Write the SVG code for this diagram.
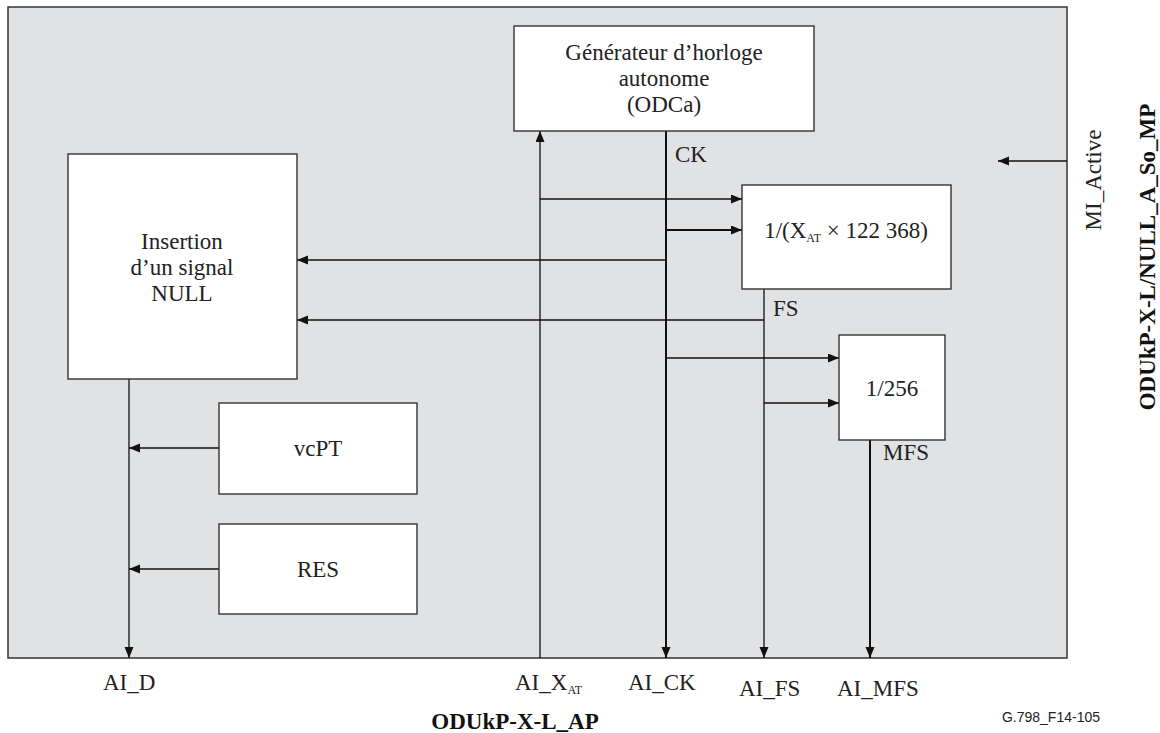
<svg xmlns="http://www.w3.org/2000/svg" width="1160" height="733" viewBox="0 0 1160 733">
<defs>
<marker id="ah" markerUnits="userSpaceOnUse" markerWidth="12" markerHeight="10" refX="11" refY="4.5" orient="auto">
<path d="M0,0 L11,4.5 L0,9 z" fill="#111"/>
</marker>
<style>
.box{fill:#fff;stroke:#333;stroke-width:1.4}
.ln{stroke:#111;stroke-width:1.3;fill:none}
.thk{stroke:#111;stroke-width:2;fill:none}
.t{font-family:"Liberation Serif","Times New Roman",serif;font-size:23px;fill:#222}
.b{font-family:"Liberation Serif","Times New Roman",serif;font-size:23px;font-weight:bold;fill:#111}
.m{text-anchor:middle}
.sub{font-size:12px}
</style>
</defs>
<rect x="0" y="0" width="1160" height="733" fill="#fff"/>
<rect id="frame" x="8" y="7" width="1059" height="651" fill="#e1e2e4" stroke="#333" stroke-width="1.5"/>

<g id="connectors">
<line class="ln" x1="540" y1="658" x2="540" y2="131" marker-end="url(#ah)"/>
<line class="thk" x1="666" y1="131" x2="666" y2="658" marker-end="url(#ah)"/>
<line class="ln" x1="540" y1="199" x2="742" y2="199" marker-end="url(#ah)"/>
<line class="thk" x1="666" y1="230" x2="742" y2="230" marker-end="url(#ah)"/>
<line class="ln" x1="666" y1="260" x2="297" y2="260" marker-end="url(#ah)"/>
<line class="ln" x1="764" y1="289" x2="764" y2="658" marker-end="url(#ah)"/>
<line class="ln" x1="764" y1="320" x2="297" y2="320" marker-end="url(#ah)"/>
<line class="ln" x1="666" y1="358" x2="839" y2="358" marker-end="url(#ah)"/>
<line class="ln" x1="764" y1="403" x2="839" y2="403" marker-end="url(#ah)"/>
<line class="thk" x1="870" y1="440" x2="870" y2="658" marker-end="url(#ah)"/>
<line class="ln" x1="129" y1="379" x2="129" y2="658" marker-end="url(#ah)"/>
<line class="ln" x1="219" y1="448" x2="129" y2="448" marker-end="url(#ah)"/>
<line class="ln" x1="219" y1="569" x2="129" y2="569" marker-end="url(#ah)"/>
<line class="ln" x1="1067" y1="161" x2="998" y2="161" marker-end="url(#ah)"/>
<text class="t" x="675" y="162">CK</text>
<text class="t" x="773" y="316">FS</text>
<text class="t" x="883" y="460">MFS</text>
</g>

<g id="odca">
<rect class="box" x="514" y="26" width="300" height="105"/>
<text class="t m" x="664" y="60">Générateur d’horloge</text>
<text class="t m" x="664" y="86">autonome</text>
<text class="t m" x="664" y="112">(ODCa)</text>
</g>

<g id="div1">
<rect class="box" x="742" y="185" width="209" height="104"/>
<text class="t m" x="846" y="238">1/(X<tspan class="sub" dy="4">AT</tspan><tspan dy="-4"> × 122 368)</tspan></text>
</g>

<g id="div256">
<rect class="box" x="839" y="335" width="106" height="105"/>
<text class="t m" x="892" y="396">1/256</text>
</g>

<g id="insertion">
<rect class="box" x="68" y="154" width="229" height="225"/>
<text class="t m" x="182" y="249">Insertion</text>
<text class="t m" x="182" y="275">d’un signal</text>
<text class="t m" x="182" y="301">NULL</text>
</g>

<g id="vcpt">
<rect class="box" x="219" y="403" width="198" height="91"/>
<text class="t m" x="318" y="456">vcPT</text>
</g>

<g id="res">
<rect class="box" x="219" y="524" width="198" height="90"/>
<text class="t m" x="318" y="577">RES</text>
</g>

<g id="labels">
<text class="t" x="103" y="690">AI_D</text>
<text class="t" x="515" y="690">AI_X<tspan class="sub" dy="4">AT</tspan></text>
<text class="t" x="628" y="690">AI_CK</text>
<text class="t" x="739" y="696">AI_FS</text>
<text class="t" x="837" y="696">AI_MFS</text>
<text class="b m" x="515" y="729">ODUkP-X-L_AP</text>
<text class="t m" transform="translate(1101,180) rotate(-90)">MI_Active</text>
<text class="b m" transform="translate(1155,257) rotate(-90)">ODUkP-X-L/NULL_A_So_MP</text>
<text x="1100" y="722" text-anchor="end" font-family="Liberation Sans, Arial, sans-serif" font-size="14" fill="#222">G.798_F14-105</text>
</g>
</svg>
